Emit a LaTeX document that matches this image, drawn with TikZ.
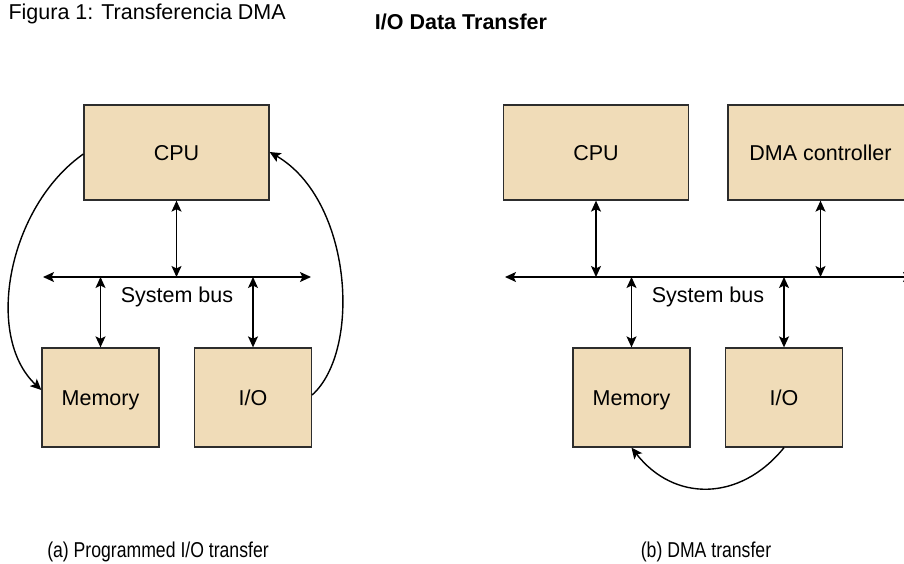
\documentclass[tikz,border=0pt]{standalone}
\usepackage{fontspec}
\setmainfont{Liberation Sans}
\usepackage{xcolor}
\usetikzlibrary{arrows.meta}
\definecolor{boxtan}{RGB}{240,220,184}
\definecolor{boxedge}{RGB}{45,45,45}

\begin{document}
\begin{tikzpicture}[x=1pt,y=-1pt,
    every node/.style={font=\fontsize{21.5}{26}\selectfont},
    box/.style={draw=boxedge, line width=1.3pt, fill=boxtan, inner sep=0pt,
      text height=15.5pt, text depth=0pt},
    widebox/.style={box, minimum width=185pt, minimum height=95pt},
    smallbox/.style={box, minimum width=117pt, minimum height=99pt},
    tip/.style={-{Stealth[length=11pt,width=10pt,inset=2.5pt]}},
    biarrow/.style={{Stealth[length=11pt,width=10pt,inset=2.5pt]}-{Stealth[length=11pt,width=10pt,inset=2.5pt]}},
    line/.style={line width=1.4pt}]
  \useasboundingbox (0,0) rectangle (904,563);
  \clip (0,0) rectangle (904,563);

  \node[anchor=base west] (fig) at (5,19) {Figura 1: Transferencia DMA};
  \node (title) at (461,22) {\bfseries I/O Data Transfer};

  % (a) programmed I/O
  \node[widebox] (cpuA) at (176.5,152.5) {CPU};
  \node[smallbox] (memA) at (100.5,397.5) {Memory};
  \node[smallbox] (ioA) at (253,397.5) {I/O};
  \coordinate (busAl) at (43,277);
  \coordinate (busAr) at (311,277);
  \draw[line,biarrow] (busAl) -- (busAr);
  \node (sysA) at (177,297) {System bus};
  \draw[line,biarrow] (cpuA.south) -- (cpuA.south |- busAl);
  \draw[line,biarrow] (memA.north) -- (memA.north |- busAl);
  \draw[line,biarrow] (ioA.north) -- (ioA.north |- busAl);
  \draw[line,tip] (cpuA.west |- 0,154) .. controls (8,207) and (-16,336) .. (memA.west |- 0,390);
  \draw[line,tip] (ioA.east |- 0,395) .. controls (362,350) and (352,200) .. (cpuA.east |- 0,152);
  \node (capA) at (158,552) {\scalebox{0.82}[1]{(a) Programmed I/O transfer}};

  % (b) DMA transfer
  \node[widebox] (cpuB) at (596,152.5) {CPU};
  \node[widebox] (dma) at (820.5,152.5) {DMA controller};
  \node[smallbox] (memB) at (631.5,397.5) {Memory};
  \node[smallbox] (ioB) at (784,397.5) {I/O};
  \coordinate (busBl) at (505,277);
  \coordinate (busBr) at (914,277);
  \draw[line,biarrow] (busBl) -- (busBr);
  \node (sysB) at (708,297) {System bus};
  \draw[line,biarrow] (cpuB.south) -- (cpuB.south |- busBl);
  \draw[line,biarrow] (dma.south) -- (dma.south |- busBl);
  \draw[line,biarrow] (memB.north) -- (memB.north |- busBl);
  \draw[line,biarrow] (ioB.north) -- (ioB.north |- busBl);
  \draw[line,tip] (ioB.south) .. controls (740,502) and (674,502) .. (memB.south);
  \node (capB) at (706,552) {\scalebox{0.82}[1]{(b) DMA transfer}};
\end{tikzpicture}
\end{document}
